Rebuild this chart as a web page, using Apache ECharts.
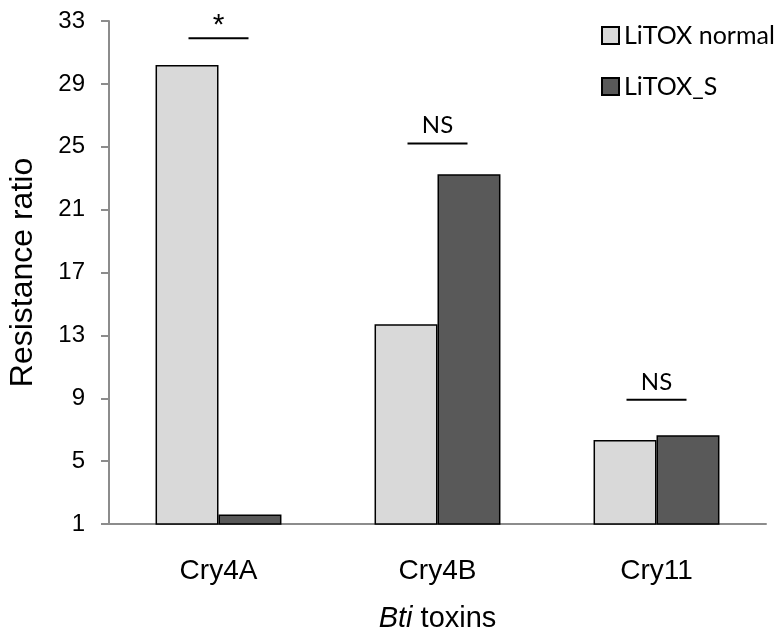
<!doctype html>
<html lang="en">
<head>
<meta charset="UTF-8">
<script src="https://cdn.jsdelivr.net/npm/echarts@6/dist/echarts.min.js"></script>
<title>Resistance ratio</title>
<style>
  html, body { margin: 0; padding: 0; background: #fff; }
</style>
</head>
<body>
<div id="main" style="width:777px;height:640px;"></div>
<script>
// data
var toxins = ['Cry4A', 'Cry4B', 'Cry11'];
var normalRatio = [30.2, 13.7, 6.35];
var sRatio = [1.6, 23.25, 6.65];
var sigLabels = ['*', 'NS', 'NS'];
var sigLevel = [31.9, 25.2, 8.9];
var yTicks = { min: 1, max: 33, interval: 4 };

var myChart = echarts.init(document.getElementById('main'));

var option = {
    animation: false,
    backgroundColor: '#fff',
    grid: {
        left: 109,
        right: 11,
        top: 21,
        bottom: 116,
        containLabel: false,
        outerBoundsMode: 'none'
    },
    legend: {
        orient: 'vertical',
        left: 596,
        top: 18,
        itemWidth: 17,
        itemHeight: 17,
        itemGap: 26,
        icon: 'rect',
        textStyle: {
            fontFamily: 'Lato',
            fontSize: 25,
            lineHeight: 24,
            color: '#000'
        },
        data: ['LiTOX normal', 'LiTOX_S']
    },
    xAxis: {
        type: 'category',
        data: toxins,
        axisLine: { lineStyle: { color: '#8c8c8c', width: 2 } },
        axisTick: { length: 8, lineStyle: { color: '#8c8c8c', width: 2 } },
        axisLabel: {
            margin: 33,
            fontFamily: 'Liberation Sans',
            fontSize: 28,
            color: '#000'
        },
        name: '{i|Bti} toxins',
        nameLocation: 'middle',
        nameGap: 80,
        nameTextStyle: {
            fontFamily: 'Liberation Sans',
            fontSize: 29,
            color: '#000',
            rich: {
                i: { fontFamily: 'Liberation Sans', fontSize: 29, fontStyle: 'italic', color: '#000' }
            }
        }
    },
    yAxis: {
        type: 'value',
        min: yTicks.min,
        max: yTicks.max,
        interval: yTicks.interval,
        splitLine: { show: false },
        axisLine: { show: true, lineStyle: { color: '#8c8c8c', width: 2 } },
        axisTick: { show: true, length: 8, lineStyle: { color: '#8c8c8c', width: 2 } },
        axisLabel: {
            margin: 24,
            fontFamily: 'Liberation Sans',
            fontSize: 24,
            color: '#000'
        },
        name: 'Resistance ratio',
        nameLocation: 'middle',
        nameGap: 70,
        nameTextStyle: {
            fontFamily: 'Liberation Sans',
            fontSize: 32,
            color: '#000'
        }
    },
    series: [
        {
            name: 'LiTOX normal',
            type: 'bar',
            data: normalRatio,
            barGap: '0%',
            barCategoryGap: '42.5%',
            itemStyle: { color: '#d9d9d9', borderColor: '#000', borderWidth: 1.5 }
        },
        {
            name: 'LiTOX_S',
            type: 'bar',
            data: sRatio,
            itemStyle: { color: '#595959', borderColor: '#000', borderWidth: 1.5 }
        }
    ]
};

myChart.setOption(option);

// significance bars above each pair
var marks = [];
for (var i = 0; i < toxins.length; i++) {
    var p = myChart.convertToPixel({ gridIndex: 0 }, [toxins[i], sigLevel[i]]);
    var star = sigLabels[i] === '*';
    marks.push({
        type: 'line',
        shape: { x1: p[0] - 30, y1: p[1], x2: p[0] + 30, y2: p[1] },
        style: { stroke: '#000', lineWidth: 2 }
    });
    marks.push({
        type: 'text',
        x: p[0],
        y: star ? p[1] - 28 : p[1] - 6,
        style: {
            text: sigLabels[i],
            fontFamily: star ? 'Liberation Sans' : 'Lato',
            fontSize: star ? 30 : 24,
            fill: '#000',
            align: 'center',
            verticalAlign: star ? 'top' : 'bottom'
        }
    });
}
myChart.setOption({ graphic: marks });
</script>
</body>
</html>
